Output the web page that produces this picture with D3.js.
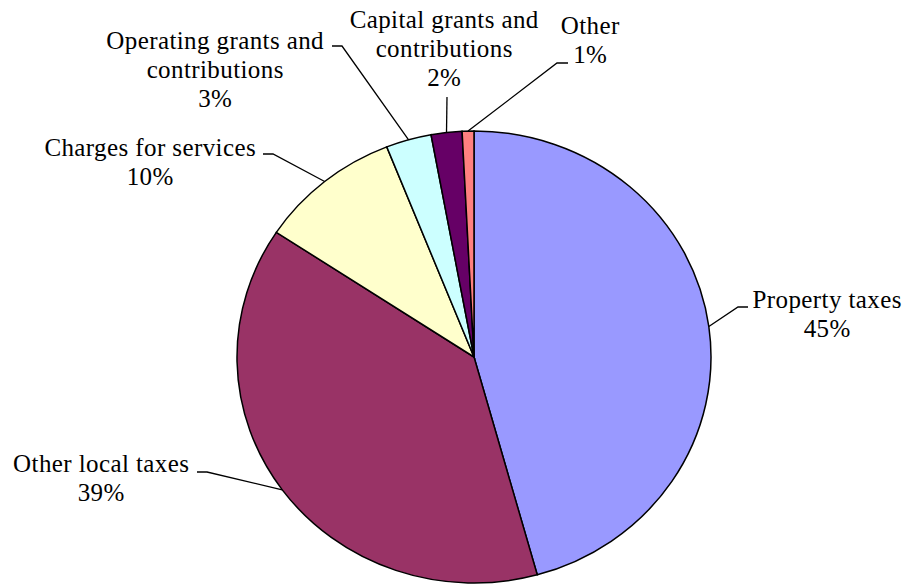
<!DOCTYPE html>
<html>
<head>
<meta charset="utf-8">
<script src="https://cdn.jsdelivr.net/npm/d3@7"></script>
<style>
  html, body { margin: 0; padding: 0; background: #fff; }
  svg { display: block; }
</style>
</head>
<body>
<svg id="chart" width="906" height="586"></svg>
<script>
const categories = ["Property taxes", "Other local taxes", "Charges for services",
  "Operating grants and contributions", "Capital grants and contributions", "Other"];
const values = [45.7, 38.6, 9.7, 3.1, 2.1, 0.8];
const pctLabels = ["45%", "39%", "10%", "3%", "2%", "1%"];
const labelLines = [["Property taxes"], ["Other local taxes"], ["Charges for services"],
  ["Operating grants and", "contributions"], ["Capital grants and", "contributions"], ["Other"]];
const colors = ["#9999FF", "#993366", "#FFFFCC", "#CCFFFF", "#660066", "#FF8080"];

// layout (label centre x, first baseline y) and leader elbow (x, y, horizontal end x)
const labelPos = [[827, 308], [101, 472], [150, 156], [215, 49], [444, 28], [590, 34]];
const leaderElbow = [[738, 307, 748], [207, 472, 197], [273, 154, 263], [342, 46, 332], [447, 97, 447], [557, 63, 568]];

const cx = 474, cy = 357, rx = 237, ry = 226;
const svg = d3.select("#chart");

const pie = d3.pie().sort(null).value(d => d)(values);
const arc = d3.arc().innerRadius(0).outerRadius(rx);
const edge = d3.arc().innerRadius(rx).outerRadius(rx);

const g = svg.append("g").attr("transform", `translate(${cx},${cy}) scale(1,${ry / rx})`);
g.selectAll("path").data(pie).join("path")
  .attr("d", arc)
  .attr("fill", (d, i) => colors[i])
  .attr("stroke", "#000")
  .attr("stroke-width", 1.5)
  .attr("vector-effect", "non-scaling-stroke");

// leader lines
pie.forEach((d, i) => {
  const c = edge.centroid(d);
  const ax = cx + c[0], ay = cy + c[1] * ry / rx;
  const e = leaderElbow[i];
  const pts = [[ax, ay], [e[0], e[1]], [e[2], e[1]]];
  svg.append("path")
    .attr("d", d3.line()(pts))
    .attr("fill", "none")
    .attr("stroke", "#000")
    .attr("stroke-width", 1.3);
});

// labels: one text element per line
const lh = 29;
labelLines.forEach((lines, i) => {
  lines.concat([pctLabels[i]]).forEach((s, k) => {
    svg.append("text")
      .attr("x", labelPos[i][0] + 0.2)
      .attr("y", labelPos[i][1] + k * lh)
      .attr("text-anchor", "middle")
      .style("font-family", "\"Liberation Serif\"")
      .style("font-size", "25px")
      .style("letter-spacing", "0.4px")
      .style("fill", "#000")
      .text(s);
  });
});
</script>
</body>
</html>
